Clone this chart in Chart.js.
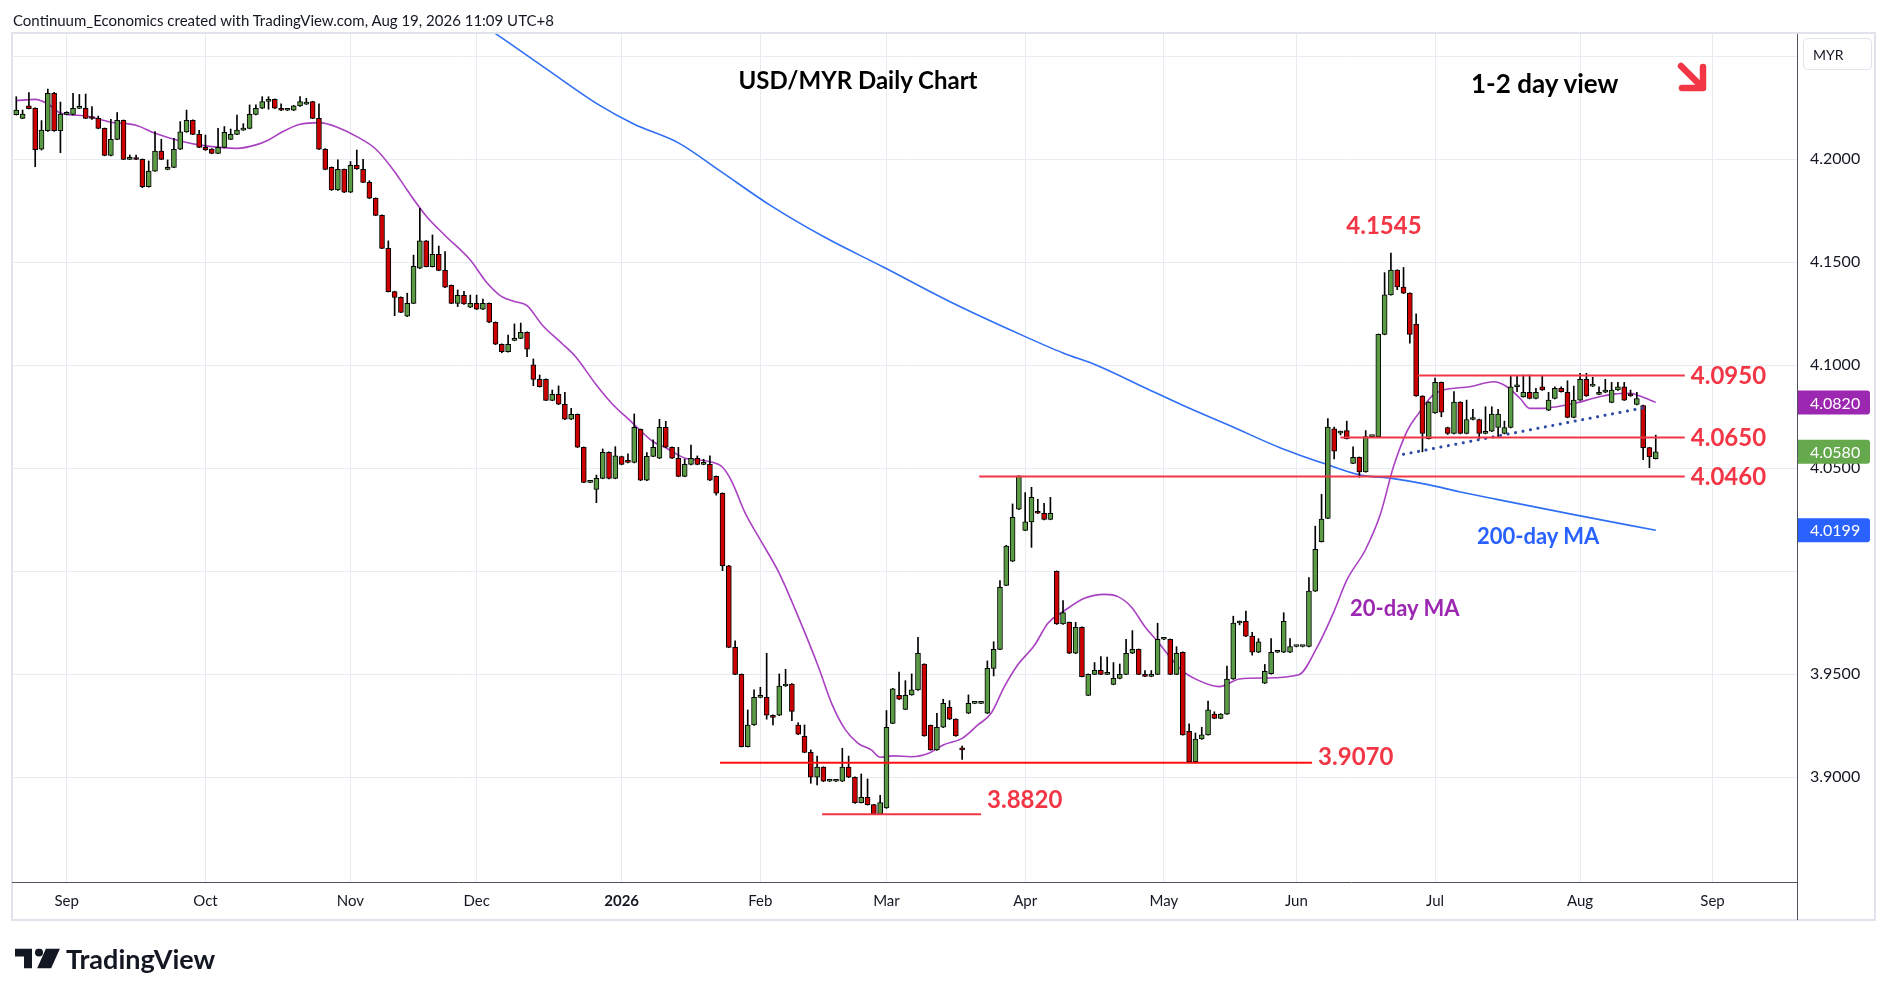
<!DOCTYPE html>
<html><head><meta charset="utf-8">
<script src="https://cdn.jsdelivr.net/npm/chart.js@4.4.1/dist/chart.umd.min.js"></script>
<style>
html,body{margin:0;padding:0;background:#fff;width:1888px;height:996px;overflow:hidden;font-family:Lato,'Noto Sans',sans-serif;}
#wrap{position:relative;width:1888px;height:996px;}
canvas{position:absolute;left:0;top:0;}
.t{position:absolute;white-space:nowrap;line-height:1;transform:translateY(-50%);}
</style></head><body>
<div id="wrap">
<canvas id="c" width="1888" height="996"></canvas>
<div class="t" style="left:13px;top:20px;font-size:15px;color:#131722;">Continuum_Economics created with TradingView.com, Aug 19, 2026 11:09 UTC+8</div>
<div class="t" style="left:858px;top:80px;transform:translate(-50%,-50%);font-size:24px;font-weight:bold;color:#000;">USD/MYR Daily Chart</div>
<div class="t" style="left:1471px;top:83px;font-size:26px;font-weight:bold;color:#000;">1-2 day view</div>
<div class="t" style="left:1477px;top:536px;font-size:22px;font-weight:bold;color:#2962ff;">200-day MA</div>
<div class="t" style="left:1350px;top:608px;font-size:22px;font-weight:bold;color:#9c27b0;">20-day MA</div>
<div class="t" style="left:15px;top:958px;display:flex;align-items:center;">
<svg width="46" height="20" viewBox="0 0 46 20"><path d="M0 0H17V20H9V8H0Z" fill="#131722"/><circle cx="24" cy="4" r="4" fill="#131722"/><path d="M31 0H45L36 20H22Z" fill="#131722"/></svg>
<span style="margin-left:5px;font-size:27px;font-weight:bold;color:#131722;">TradingView</span></div>
</div>
<script>
// ---- Data ----
const monthTickIdx = [8,30,53,73,96,118,138,160,182,203,225,248,269];
const monthLabels = ['Sep','Oct','Nov','Dec','2026','Feb','Mar','Apr','May','Jun','Jul','Aug','Sep'];
const priceTicks = [3.90,3.95,4.00,4.05,4.10,4.15,4.20,4.25];

const open = [
4.2217,4.2199,4.2259,4.2248,4.2049,4.2139,4.2320,4.2139,4.2218,4.2218,
4.2247,4.2248,4.2199,4.2199,4.2150,4.2019,4.2097,4.2189,4.2000,4.2000,
4.2000,4.1867,4.1943,4.2040,4.1951,4.1961,4.2049,4.2133,4.2189,4.2121,
4.2058,4.2050,4.2029,4.2058,4.2097,4.2121,4.2142,4.2150,4.2218,4.2248,
4.2281,4.2291,4.2248,4.2238,4.2238,4.2259,4.2268,4.2280,4.2199,4.2049,
4.1961,4.1851,4.1951,4.1840,4.1971,4.1951,4.1888,4.1811,4.1728,4.1568,
4.1358,4.1330,4.1238,4.1301,4.1471,4.1604,4.1479,4.1539,4.1461,4.1388,
4.1301,4.1340,4.1282,4.1301,4.1272,4.1301,4.1209,4.1102,4.1066,4.1121,
4.1131,4.1160,4.1002,4.0932,4.0932,4.0830,4.0859,4.0811,4.0738,4.0762,
4.0602,4.0432,4.0398,4.0451,4.0578,4.0451,4.0557,4.0539,4.0528,4.0689,
4.0442,4.0558,4.0549,4.0699,4.0602,4.0549,4.0461,4.0519,4.0549,4.0519,
4.0519,4.0461,4.0379,4.0027,3.9631,3.9500,3.9149,3.9254,3.9388,3.9388,
3.9301,3.9301,3.9443,3.9453,3.9254,3.9199,3.9121,3.9000,3.9049,3.8981,
3.8981,3.8981,3.9049,3.9000,3.8877,3.8903,3.8867,3.8822,3.8851,3.9262,
3.9398,3.9330,3.9400,3.9424,3.9549,3.9252,3.9133,3.9243,3.9340,3.9282,
3.9142,3.9311,3.9359,3.9359,3.9311,3.9529,3.9621,3.9932,4.0049,4.0301,
4.0199,4.0240,4.0291,4.0282,4.0252,4.0000,3.9744,3.9752,3.9602,3.9728,
3.9398,3.9500,3.9519,3.9500,3.9451,3.9480,3.9500,3.9602,3.9621,3.9500,
3.9490,3.9500,3.9670,3.9670,3.9500,3.9607,3.9223,3.9076,3.9186,3.9206,
3.9307,3.9286,3.9307,3.9477,3.9749,3.9757,3.9685,3.9607,3.9457,3.9503,
3.9607,3.9607,3.9607,3.9635,3.9635,3.9635,3.9904,4.0144,4.0257,4.0692,
4.0671,4.0683,4.0524,4.0553,4.0483,4.0654,4.0654,4.1150,4.1342,4.1462,
4.1380,4.1350,4.1200,4.0851,4.0644,4.0769,4.0917,4.0698,4.0669,4.0821,
4.0669,4.0737,4.0737,4.0669,4.0680,4.0698,4.0669,4.0698,4.0896,4.0847,
4.0869,4.0839,4.0896,4.0782,4.0839,4.0888,4.0869,4.0747,4.0831,4.0932,
4.0899,4.0859,4.0869,4.0820,4.0880,4.0896,4.0860,4.0810,4.0805,4.0600,4.0547];
const high = [
4.2304,4.2239,4.2324,4.2250,4.2188,4.2341,4.2325,4.2278,4.2231,4.2320,
4.2315,4.2317,4.2256,4.2210,4.2152,4.2194,4.2227,4.2191,4.2021,4.2020,
4.2002,4.1992,4.2134,4.2097,4.1997,4.2102,4.2183,4.2239,4.2192,4.2141,
4.2118,4.2052,4.2150,4.2159,4.2147,4.2215,4.2173,4.2264,4.2264,4.2304,
4.2304,4.2293,4.2269,4.2240,4.2262,4.2304,4.2296,4.2282,4.2269,4.2052,
4.1963,4.1997,4.1953,4.1989,4.2045,4.2000,4.1896,4.1813,4.1730,4.1604,
4.1360,4.1332,4.1350,4.1535,4.1762,4.1606,4.1633,4.1579,4.1552,4.1390,
4.1366,4.1359,4.1341,4.1341,4.1322,4.1303,4.1211,4.1104,4.1147,4.1201,
4.1205,4.1162,4.1031,4.0953,4.0934,4.0880,4.0900,4.0869,4.0791,4.0764,
4.0604,4.0434,4.0467,4.0594,4.0580,4.0605,4.0559,4.0570,4.0764,4.0691,
4.0576,4.0638,4.0738,4.0728,4.0604,4.0602,4.0544,4.0613,4.0560,4.0544,
4.0560,4.0463,4.0381,4.0029,3.9663,3.9502,3.9327,3.9424,3.9437,3.9602,
3.9303,3.9502,3.9524,3.9455,3.9265,3.9254,3.9133,3.9103,3.9051,3.8983,
3.8983,3.9141,3.9103,3.9002,3.9016,3.8992,3.8869,3.8913,3.9324,3.9432,
3.9511,3.9469,3.9502,3.9680,3.9551,3.9254,3.9311,3.9379,3.9372,3.9284,
3.9152,3.9400,3.9361,3.9361,3.9565,3.9658,3.9955,4.0126,4.0327,4.0463,
4.0382,4.0408,4.0350,4.0330,4.0359,4.0002,3.9858,3.9754,3.9752,3.9730,
3.9502,3.9557,3.9586,3.9583,3.9557,3.9550,3.9670,3.9712,3.9623,3.9518,
3.9518,3.9748,3.9672,3.9672,3.9634,3.9609,3.9260,3.9215,3.9243,3.9370,
3.9318,3.9309,3.9540,3.9782,3.9759,3.9807,3.9704,3.9673,3.9548,3.9673,
3.9609,3.9799,3.9673,3.9637,3.9637,3.9969,4.0219,4.0374,4.0741,4.0700,
4.0681,4.0729,4.0604,4.0555,4.0683,4.0656,4.1152,4.1450,4.1545,4.1464,
4.1475,4.1352,4.1250,4.0853,4.0823,4.0938,4.0919,4.0700,4.0872,4.0823,
4.0831,4.0786,4.0739,4.0799,4.0799,4.0786,4.0729,4.0948,4.0951,4.0953,
4.0953,4.0888,4.0951,4.0869,4.0896,4.0896,4.0925,4.0899,4.0961,4.0961,
4.0942,4.0896,4.0932,4.0917,4.0917,4.0917,4.0880,4.0869,4.0807,4.0602,4.0661];
const low = [
4.2215,4.2197,4.2244,4.1964,4.2045,4.2135,4.2135,4.2032,4.2216,4.2216,
4.2246,4.2197,4.2194,4.2148,4.2017,4.2017,4.2095,4.1998,4.1998,4.1998,
4.1862,4.1865,4.1941,4.1998,4.1949,4.1959,4.2047,4.2131,4.2119,4.2056,
4.2043,4.2027,4.2027,4.2056,4.2095,4.2120,4.2140,4.2148,4.2216,4.2246,
4.2243,4.2246,4.2236,4.2236,4.2236,4.2257,4.2266,4.2197,4.2047,4.1949,
4.1849,4.1849,4.1838,4.1838,4.1951,4.1886,4.1809,4.1726,4.1566,4.1356,
4.1241,4.1255,4.1236,4.1299,4.1469,4.1477,4.1477,4.1459,4.1377,4.1299,
4.1285,4.1296,4.1280,4.1270,4.1270,4.1207,4.1100,4.1061,4.1064,4.1119,
4.1129,4.1042,4.0901,4.0894,4.0828,4.0828,4.0809,4.0736,4.0736,4.0600,
4.0430,4.0430,4.0333,4.0449,4.0449,4.0449,4.0517,4.0526,4.0526,4.0440,
4.0440,4.0556,4.0547,4.0600,4.0547,4.0459,4.0459,4.0517,4.0517,4.0517,
4.0440,4.0370,4.0003,3.9629,3.9498,3.9147,3.9147,3.9252,3.9386,3.9282,
3.9254,3.9299,3.9441,3.9275,3.9207,3.9119,3.8971,3.8963,3.8979,3.8979,
3.8979,3.8979,3.8998,3.8873,3.8875,3.8865,3.8820,3.8820,3.8849,3.9260,
3.9377,3.9328,3.9398,3.9422,3.9199,3.9131,3.9131,3.9241,3.9280,3.9199,
3.9087,3.9309,3.9357,3.9357,3.9309,3.9492,3.9619,3.9930,4.0047,4.0299,
4.0197,4.0116,4.0280,4.0250,4.0250,3.9742,3.9742,3.9600,3.9600,3.9487,
3.9396,3.9498,3.9498,3.9498,3.9449,3.9478,3.9498,3.9600,3.9498,3.9488,
3.9488,3.9498,3.9668,3.9498,3.9498,3.9204,3.9074,3.9070,3.9184,3.9204,
3.9284,3.9284,3.9305,3.9475,3.9740,3.9683,3.9593,3.9605,3.9455,3.9501,
3.9605,3.9605,3.9605,3.9633,3.9633,3.9633,3.9902,4.0142,4.0255,4.0546,
4.0662,4.0642,4.0522,4.0457,4.0481,4.0652,4.0652,4.1148,4.1340,4.1367,
4.1348,4.1108,4.0849,4.0580,4.0642,4.0767,4.0750,4.0664,4.0667,4.0667,
4.0667,4.0735,4.0644,4.0667,4.0678,4.0653,4.0667,4.0696,4.0872,4.0845,
4.0837,4.0837,4.0878,4.0780,4.0837,4.0870,4.0745,4.0745,4.0829,4.0849,
4.0897,4.0857,4.0867,4.0818,4.0878,4.0829,4.0849,4.0808,4.0542,4.0503,4.0545];
const close = [
4.2239,4.2220,4.2246,4.2047,4.2142,4.2320,4.2139,4.2220,4.2220,4.2248,
4.2248,4.2199,4.2198,4.2150,4.2019,4.2097,4.2189,4.2000,4.2000,4.1999,
4.1867,4.1943,4.2040,4.2000,4.1961,4.2049,4.2133,4.2189,4.2121,4.2058,
4.2045,4.2029,4.2058,4.2131,4.2121,4.2142,4.2143,4.2218,4.2248,4.2280,
4.2291,4.2248,4.2238,4.2238,4.2259,4.2280,4.2269,4.2199,4.2049,4.1951,
4.1851,4.1951,4.1840,4.1971,4.1953,4.1888,4.1811,4.1728,4.1568,4.1358,
4.1330,4.1257,4.1301,4.1480,4.1604,4.1479,4.1539,4.1461,4.1379,4.1301,
4.1340,4.1298,4.1301,4.1272,4.1301,4.1209,4.1102,4.1066,4.1102,4.1131,
4.1160,4.1078,4.0932,4.0896,4.0830,4.0859,4.0811,4.0738,4.0762,4.0602,
4.0432,4.0432,4.0451,4.0578,4.0451,4.0560,4.0519,4.0528,4.0699,4.0442,
4.0558,4.0602,4.0699,4.0602,4.0549,4.0461,4.0519,4.0549,4.0519,4.0519,
4.0442,4.0379,4.0027,3.9631,3.9500,3.9149,3.9254,3.9388,3.9388,3.9301,
3.9291,3.9443,3.9453,3.9320,3.9209,3.9121,3.9000,3.9049,3.8981,3.8981,
3.8981,3.9049,3.9000,3.8877,3.8903,3.8867,3.8822,3.8877,3.9243,3.9430,
3.9379,3.9398,3.9424,3.9602,3.9201,3.9133,3.9243,3.9359,3.9282,3.9201,
3.9133,3.9359,3.9359,3.9359,3.9529,3.9621,3.9922,4.0123,4.0262,4.0463,
4.0240,4.0359,4.0282,4.0252,4.0282,3.9744,3.9799,3.9602,3.9728,3.9489,
3.9500,3.9519,3.9500,3.9500,3.9480,3.9500,3.9602,3.9621,3.9500,3.9490,
3.9500,3.9670,3.9670,3.9500,3.9602,3.9206,3.9076,3.9186,3.9206,3.9327,
3.9286,3.9307,3.9477,3.9749,3.9757,3.9685,3.9607,3.9657,3.9515,3.9607,
3.9607,3.9757,3.9635,3.9635,3.9635,3.9904,4.0107,4.0254,4.0700,4.0583,
4.0679,4.0644,4.0553,4.0483,4.0654,4.0654,4.1150,4.1342,4.1462,4.1380,
4.1350,4.1150,4.0851,4.0669,4.0821,4.0917,4.0773,4.0669,4.0821,4.0669,
4.0737,4.0737,4.0669,4.0680,4.0763,4.0763,4.0698,4.0896,4.0896,4.0869,
4.0839,4.0869,4.0880,4.0831,4.0888,4.0872,4.0747,4.0831,4.0932,4.0851,
4.0899,4.0869,4.0880,4.0880,4.0896,4.0831,4.0851,4.0839,4.0600,4.0555,4.0580];

const ma20Idx = [0,3,5,7,11,15,19,22,26,30,35,38,40,42,45,48,51,54,57,60,62,65,68,72,74.5,77,79,81,83.4,86.5,88.7,92,94.4,97.5,101,103,106,110,112,113.4,115.6,117.7,121,124,127.2,129.3,131.5,133.5,135.6,137,139,142,144.7,147,150,152.5,154.6,156.7,158.8,161.5,163.6,166,169.4,172.6,174.7,176.8,179,181,184.7,187.3,190.8,194,198,203.4,206.3,209,211,214,216.3,218.4,220.6,222.2,224.7,226.3,230.5,234.3,236.4,238.5,240,242,244.3,247.5,250.6,253.3,256,257.5,260];
const ma20Val = [4.2285,4.2291,4.2269,4.2225,4.2210,4.2180,4.2165,4.2126,4.2089,4.2065,4.2053,4.2070,4.2094,4.2130,4.2170,4.2178,4.2155,4.2110,4.2050,4.1940,4.1850,4.1725,4.1630,4.1511,4.1406,4.1333,4.1310,4.1290,4.1196,4.1107,4.1042,4.0904,4.0816,4.0727,4.0629,4.0600,4.0550,4.0532,4.0505,4.0440,4.0282,4.0168,3.9990,3.9780,3.9537,3.9359,3.9230,3.9165,3.9133,3.9097,3.9104,3.9100,3.9117,3.9157,3.9189,3.9254,3.9311,3.9440,3.9545,3.9642,3.9748,3.9804,3.9869,3.9888,3.9877,3.9828,3.9731,3.9659,3.9523,3.9473,3.9440,3.9477,3.9482,3.9498,3.9632,3.9807,3.9957,4.0107,4.0274,4.0507,4.0683,4.0758,4.0856,4.0880,4.0896,4.0920,4.0896,4.0839,4.0791,4.0791,4.0799,4.0818,4.0844,4.0860,4.0864,4.0851,4.0820];
const ma200Idx = [72,76,84,92.4,98,105,112,119.4,128,137.5,148,159.3,166,171.5,179.4,184.7,192.6,200.5,207.3,213,218.4,223.7,229,234.8,247,260];
const ma200Val = [4.2690,4.2610,4.2440,4.2264,4.2170,4.2080,4.1935,4.1780,4.1625,4.1477,4.1310,4.1149,4.1060,4.0998,4.0885,4.0810,4.0705,4.0599,4.0524,4.0468,4.0450,4.0422,4.0385,4.0349,4.0275,4.0199];
const trendIdx = [220, 259];
const trendVal = [4.0568, 4.0799];
const levelVals = [4.0950, 4.0650, 4.0460, 3.9070, 3.8820];
const levelFrom = [222.3, 210.0, 152.7, 111.6, 127.8];
const levelTo = [264.6, 264.6, 264.6, 205.5, 153.0];

// ---- Build datasets ----
const GREEN = '#5b9b45', RED = '#cc0000';
const bodies = open.map((o,i)=>({x:i, y:[o, close[i]]}));
const wicks = low.map((l,i)=>({x:i, y:[l, high[i]]}));
const bodyColors = open.map((o,i)=> close[i] >= o ? GREEN : RED);
const pts = (xs, ys) => xs.map((x,i)=>({x, y:ys[i]}));

const datasets = [
  {type:'line', data: pts(ma200Idx, ma200Val), borderColor:'#2f6ff5', borderWidth:1.6, pointRadius:0, cubicInterpolationMode:'monotone', order:6},
  {type:'line', data: pts(ma20Idx, ma20Val), borderColor:'#a941c2', borderWidth:1.6, pointRadius:0, cubicInterpolationMode:'monotone', order:5},
  {type:'bar', data: wicks, backgroundColor:'#000', barThickness:1, grouped:false, order:3},
  {type:'bar', data: bodies, backgroundColor: bodyColors, borderColor:'#000', borderWidth:1, borderSkipped:false, barThickness:5, minBarLength:2, grouped:false, order:2},
  {type:'line', data: pts(trendIdx, trendVal), borderColor:'#2b4aa6', borderWidth:3, borderDash:[0.1,7.5], borderCapStyle:'round', pointRadius:0, order:1}
];
levelVals.forEach((v,k)=>{
  datasets.push({type:'line', data:[{x:levelFrom[k], y:v},{x:levelTo[k], y:v}], borderColor: k===3 ? '#ff1010' : '#f23645', borderWidth:2, pointRadius:0, order:0});
});

const FONT = "Lato, 'Noto Sans', sans-serif";

const overlay = {
  id:'overlay',
  beforeDraw(chart){
    const c = chart.ctx;
    c.save();
    c.fillStyle = '#fff'; c.fillRect(0,0,chart.width,chart.height);
    c.strokeStyle = '#e0e3eb'; c.lineWidth = 2;
    c.strokeRect(12, 33, 1863, 887);
    c.restore();
  },
  afterDraw(chart){
    const c = chart.ctx, xs = chart.scales.x, ys = chart.scales.y, a = chart.chartArea;
    c.save();
    c.strokeStyle = '#50535e'; c.lineWidth = 1;
    c.beginPath(); c.moveTo(Math.round(a.right)+0.5, a.bottom); c.lineTo(Math.round(a.right)+0.5, 920); c.stroke();
    // level labels
    c.font = 'bold 24px ' + FONT; c.fillStyle = '#f23645'; c.textBaseline = 'middle'; c.textAlign = 'left';
    const dy = [1, 1, 1, -6, -14];
    levelVals.forEach((v,k)=>{
      c.fillText(v.toFixed(4), xs.getPixelForValue(levelTo[k]) + 6, ys.getPixelForValue(v) + dy[k]);
    });
    // peak label (highest high of the later rally)
    let mi = 150; for (let i = 150; i < high.length; i++) if (high[i] > high[mi]) mi = i;
    c.textAlign = 'center';
    c.fillText(high[mi].toFixed(4), xs.getPixelForValue(mi) - 7, ys.getPixelForValue(high[mi]) - 27);
    // arrow
    c.strokeStyle = '#f23645'; c.lineWidth = 6.5; c.lineCap = 'round'; c.lineJoin = 'round';
    c.beginPath(); c.moveTo(1681, 66); c.lineTo(1700, 85); c.stroke();
    c.beginPath(); c.moveTo(1703, 67); c.lineTo(1703, 88); c.lineTo(1682, 88); c.stroke();
    // MYR box
    c.fillStyle = '#fff'; c.strokeStyle = '#e0e3eb'; c.lineWidth = 1;
    c.beginPath(); c.roundRect(1803.5, 38.5, 68, 31, 4); c.fill(); c.stroke();
    c.fillStyle = '#131722'; c.font = '14px ' + FONT; c.textAlign = 'left'; c.textBaseline = 'middle';
    c.fillText('MYR', 1813, 55);
    // value boxes on price axis
    const boxes = [[ma20Val[ma20Val.length-1], '#9c27b0'], [close[close.length-1], '#66a84c'], [ma200Val[ma200Val.length-1], '#2962ff']];
    c.font = '16px ' + FONT;
    boxes.forEach(([v,col])=>{
      const y = ys.getPixelForValue(v);
      c.fillStyle = col;
      c.beginPath(); c.roundRect(a.right + 1, y - 12, 72, 24, [0,3,3,0]); c.fill();
      c.fillStyle = '#fff';
      c.fillText(v.toFixed(4), 1810, y + 1);
    });
    c.restore();
  }
};

new Chart(document.getElementById('c'), {
  type:'bar',
  data:{ datasets },
  options:{
    responsive:false, animation:false, devicePixelRatio:1,
    layout:{ padding:{ left:12, right:13, top:34, bottom:76 } },
    plugins:{ legend:{display:false}, tooltip:{enabled:false} },
    scales:{
      x:{
        type:'linear', min:-0.68, max:282.4, offset:false,
        grid:{ color:'#e6ecf2', offset:false, drawTicks:false },
        border:{ display:true, color:'#50535e' },
        afterBuildTicks: (ax)=>{ ax.ticks = monthTickIdx.map(v=>({value:v})); },
        afterFit: (ax)=>{ ax.height = 38; },
        ticks:{
          autoSkip:false, maxRotation:0, padding:10, color:'#131722',
          font:(ctx)=>({ family:FONT, size:15, weight: (ctx.tick && ctx.tick.value===96) ? 'bold' : 'normal' }),
          callback:(v)=>{ const k = monthTickIdx.indexOf(v); return k >= 0 ? monthLabels[k] : null; }
        }
      },
      y:{
        position:'right', min:3.84917, max:4.26083,
        grid:{ color:'#e6ecf2', drawTicks:false },
        border:{ display:true, color:'#50535e' },
        afterBuildTicks: (ax)=>{ ax.ticks = priceTicks.map(v=>({value:v})); },
        afterFit: (ax)=>{ ax.width = 78; },
        ticks:{
          padding:13, color:'#131722', font:{ family:FONT, size:16 },
          callback:(v)=> (Math.abs(v-4.0)<1e-9 || v>4.24) ? '' : Number(v).toFixed(4)
        }
      }
    }
  },
  plugins:[overlay]
});
</script>
</body></html>
